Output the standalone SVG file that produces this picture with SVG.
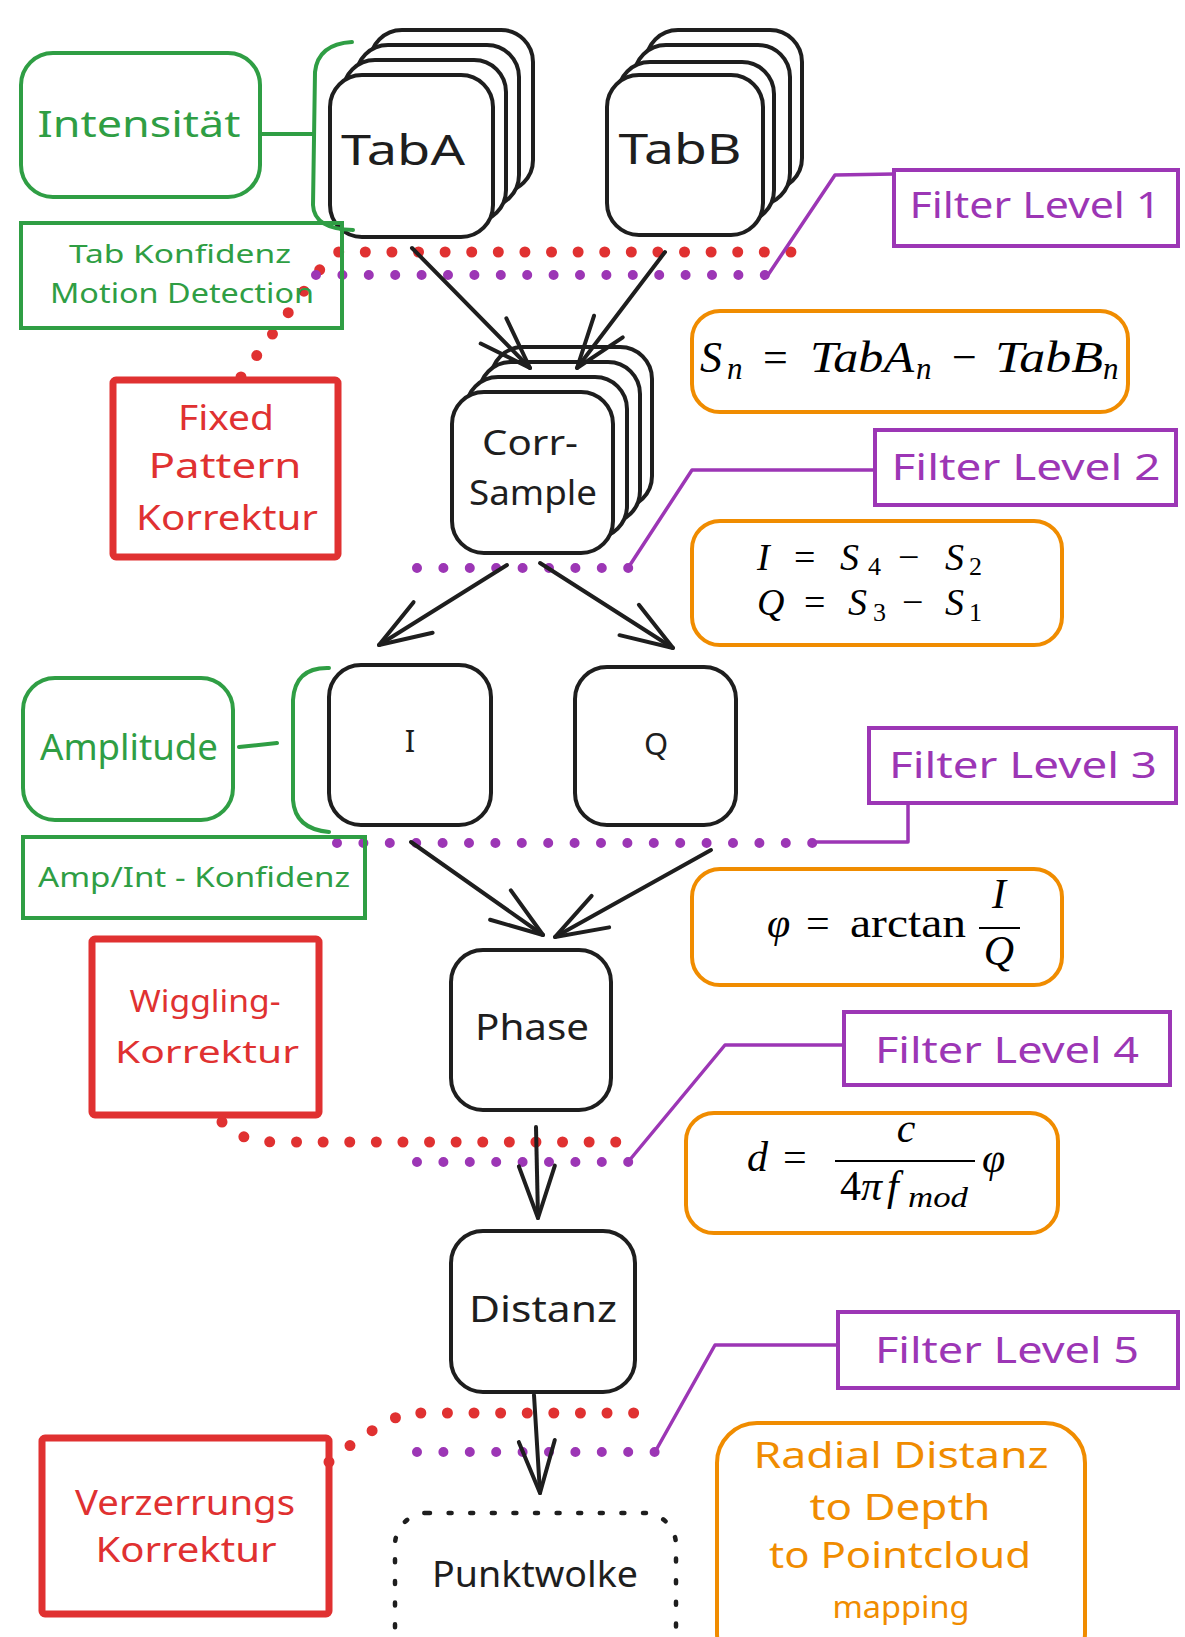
<svg xmlns="http://www.w3.org/2000/svg" width="1185" height="1637" viewBox="0 0 1185 1637">
  <style>
    .hand { font-family: "Noto Sans", "Open Sans", sans-serif; text-anchor: middle; }
    .blk { fill: #1e1e1e; }
    .grn { fill: #2f9e44; }
    .red { fill: #e03131; }
    .pur { fill: #9c36b5; }
    .org { fill: #f08c00; }
    .node { fill: #ffffff; stroke: #1e1e1e; stroke-width: 4; }
    .gbox { fill: none; stroke: #2f9e44; stroke-width: 4; }
    .rbox { fill: none; stroke: #e03131; stroke-width: 7; }
    .pbox { fill: none; stroke: #9c36b5; stroke-width: 4; }
    .obox { fill: none; stroke: #f08c00; stroke-width: 4; }
    .gline { fill: none; stroke: #2f9e44; stroke-width: 4; stroke-linecap: round; stroke-linejoin: round; }
    .pline { fill: none; stroke: #9c36b5; stroke-width: 3.5; stroke-linecap: round; stroke-linejoin: round; }
    .rdots { fill: none; stroke: #e03131; stroke-width: 11; stroke-linecap: round; stroke-dasharray: 0 26.6; }
    .pdots { fill: none; stroke: #9c36b5; stroke-width: 10; stroke-linecap: round; stroke-dasharray: 0 26.4; }
    .arrow { fill: none; stroke: #1e1e1e; stroke-width: 4; stroke-linecap: round; marker-end: url(#head); }
    .math { font-family: "Liberation Serif", "DejaVu Serif", serif; fill: #000000; }
    .it { font-style: italic; }
  </style>
  <defs>
    <marker id="head" markerUnits="userSpaceOnUse" markerWidth="80" markerHeight="80" refX="0" refY="0" orient="auto" overflow="visible">
      <path d="M -52 -18 L 0 0 L -52 18" fill="none" stroke="#1e1e1e" stroke-width="4" stroke-linecap="round" stroke-linejoin="round"/>
    </marker>
  </defs>

  <rect width="1185" height="1637" fill="#ffffff"/>

  <!-- filter / correction hook lines -->
  <g id="levels">
    <path class="rdots" d="M 241 377 L 321 268 Q 328 256 338 252 L 815 252"/>
    <path class="pdots" d="M 316 275 L 768 275"/>
    <path class="pline" d="M 768 275 L 835 175 L 894 174"/>

    <path class="pdots" d="M 417 568 L 630 568"/>
    <path class="pline" d="M 628 568 L 692 470 L 875 470"/>

    <path class="pdots" d="M 337 843 L 815 843"/>
    <path class="pline" d="M 815 842 L 908 842 L 908 804"/>

    <path class="rdots" d="M 222 1122 Q 240 1142 276 1142 L 628 1142"/>
    <path class="pdots" d="M 417 1162 L 630 1162"/>
    <path class="pline" d="M 628 1162 L 725 1045 L 844 1045"/>

    <path class="rdots" d="M 329 1462 Q 370 1428 406 1413 L 648 1413"/>
    <path class="pdots" d="M 417 1452 L 657 1452"/>
    <path class="pline" d="M 655 1452 L 715 1345 L 838 1345"/>
  </g>

  <!-- processing nodes -->
  <g id="tabA">
    <rect class="node" x="370" y="30" width="163" height="162" rx="32"/>
    <rect class="node" x="356" y="45" width="163" height="162" rx="32"/>
    <rect class="node" x="343" y="60" width="163" height="162" rx="32"/>
    <rect class="node" x="330" y="75" width="163" height="162" rx="32"/>
    <text class="hand blk" x="403" y="165" font-size="42" textLength="124" lengthAdjust="spacingAndGlyphs">TabA</text>
  </g>
  <g id="tabB">
    <rect class="node" x="646" y="30" width="156" height="160" rx="32"/>
    <rect class="node" x="634" y="45" width="156" height="160" rx="32"/>
    <rect class="node" x="618" y="62" width="156" height="160" rx="32"/>
    <rect class="node" x="607" y="75" width="156" height="160" rx="32"/>
    <text class="hand blk" x="680" y="164" font-size="42" textLength="123" lengthAdjust="spacingAndGlyphs">TabB</text>
  </g>
  <g id="corrSample">
    <rect class="node" x="491" y="347" width="161" height="161" rx="32"/>
    <rect class="node" x="479" y="362" width="161" height="161" rx="32"/>
    <rect class="node" x="466" y="377" width="161" height="161" rx="32"/>
    <rect class="node" x="452" y="392" width="161" height="161" rx="32"/>
    <text class="hand blk" x="530" y="455" font-size="34" textLength="96" lengthAdjust="spacingAndGlyphs">Corr-</text>
    <text class="hand blk" x="533" y="505" font-size="34" textLength="128" lengthAdjust="spacingAndGlyphs">Sample</text>
  </g>
  <g id="nodeI">
    <rect class="node" x="329" y="665" width="162" height="160" rx="32"/>
    <text class="hand blk" x="410" y="752" font-size="31">I</text>
  </g>
  <g id="nodeQ">
    <rect class="node" x="575" y="667" width="161" height="158" rx="32"/>
    <text class="hand blk" x="656" y="755" font-size="31">Q</text>
  </g>
  <g id="phase">
    <rect class="node" x="451" y="950" width="160" height="160" rx="32"/>
    <text class="hand blk" x="532" y="1040" font-size="37" textLength="114" lengthAdjust="spacingAndGlyphs">Phase</text>
  </g>
  <g id="distanz">
    <rect class="node" x="451" y="1231" width="184" height="161" rx="32"/>
    <text class="hand blk" x="543" y="1322" font-size="37" textLength="148" lengthAdjust="spacingAndGlyphs">Distanz</text>
  </g>
  <g id="punktwolke">
    <rect x="395" y="1513" width="281" height="180" rx="32" fill="none" stroke="#1e1e1e" stroke-width="4.5" stroke-linecap="round" stroke-dasharray="3 18.6"/>
    <text class="hand blk" x="535" y="1587" font-size="36" textLength="206" lengthAdjust="spacingAndGlyphs">Punktwolke</text>
  </g>

  <!-- green annotations -->
  <g id="intensitaet">
    <rect class="gbox" x="21" y="53" width="239" height="144" rx="32"/>
    <path class="gline" d="M 261 134 L 313 134"/>
    <path class="gline" d="M 352 42 Q 318 44 315 72 L 313 205 Q 314 229 353 230"/>
    <text class="hand grn" x="139" y="137" font-size="37" textLength="203" lengthAdjust="spacingAndGlyphs">Intensität</text>
  </g>
  <g id="tabKonfidenz">
    <rect class="gbox" x="21" y="223" width="321" height="105"/>
    <text class="hand grn" x="180" y="263" font-size="26" textLength="222" lengthAdjust="spacingAndGlyphs">Tab Konfidenz</text>
    <text class="hand grn" x="182" y="303" font-size="27" textLength="264" lengthAdjust="spacingAndGlyphs">Motion Detection</text>
  </g>
  <g id="amplitude">
    <rect class="gbox" x="23" y="678" width="210" height="142" rx="32"/>
    <path class="gline" d="M 239 747 L 277 743"/>
    <path class="gline" d="M 329 668 Q 295 667 293 700 L 293 800 Q 295 829 329 832"/>
    <text class="hand grn" x="129" y="760" font-size="37" textLength="178" lengthAdjust="spacingAndGlyphs">Amplitude</text>
  </g>
  <g id="ampIntKonfidenz">
    <rect class="gbox" x="23" y="837" width="342" height="81"/>
    <text class="hand grn" x="194" y="887" font-size="28" textLength="312" lengthAdjust="spacingAndGlyphs">Amp/Int - Konfidenz</text>
  </g>

  <!-- red corrections -->
  <g id="fixedPattern">
    <rect class="rbox" x="113" y="380" width="225" height="177" rx="3"/>
    <text class="hand red" x="226" y="430" font-size="35" textLength="96" lengthAdjust="spacingAndGlyphs">Fixed</text>
    <text class="hand red" x="225" y="478" font-size="35" textLength="153" lengthAdjust="spacingAndGlyphs">Pattern</text>
    <text class="hand red" x="227" y="530" font-size="35" textLength="182" lengthAdjust="spacingAndGlyphs">Korrektur</text>
  </g>
  <g id="wiggling">
    <rect class="rbox" x="92" y="939" width="227" height="176" rx="3"/>
    <text class="hand red" x="205" y="1012" font-size="31" textLength="151" lengthAdjust="spacingAndGlyphs">Wiggling-</text>
    <text class="hand red" x="207" y="1063" font-size="31" textLength="184" lengthAdjust="spacingAndGlyphs">Korrektur</text>
  </g>
  <g id="verzerrung">
    <rect class="rbox" x="42" y="1438" width="287" height="176" rx="3"/>
    <text class="hand red" x="185" y="1515" font-size="35" textLength="220" lengthAdjust="spacingAndGlyphs">Verzerrungs</text>
    <text class="hand red" x="186" y="1562" font-size="35" textLength="181" lengthAdjust="spacingAndGlyphs">Korrektur</text>
  </g>

  <!-- filter levels -->
  <g id="filter1">
    <rect class="pbox" x="894" y="170" width="284" height="76"/>
    <text class="hand pur" x="1035" y="218" font-size="37" textLength="251" lengthAdjust="spacingAndGlyphs">Filter Level 1</text>
  </g>
  <g id="filter2">
    <rect class="pbox" x="875" y="430" width="301" height="75"/>
    <text class="hand pur" x="1026" y="480" font-size="37" textLength="269" lengthAdjust="spacingAndGlyphs">Filter Level 2</text>
  </g>
  <g id="filter3">
    <rect class="pbox" x="869" y="728" width="307" height="75"/>
    <text class="hand pur" x="1023" y="778" font-size="37" textLength="268" lengthAdjust="spacingAndGlyphs">Filter Level 3</text>
  </g>
  <g id="filter4">
    <rect class="pbox" x="844" y="1012" width="326" height="73"/>
    <text class="hand pur" x="1007" y="1063" font-size="37" textLength="264" lengthAdjust="spacingAndGlyphs">Filter Level 4</text>
  </g>
  <g id="filter5">
    <rect class="pbox" x="838" y="1312" width="340" height="76"/>
    <text class="hand pur" x="1007" y="1363" font-size="37" textLength="264" lengthAdjust="spacingAndGlyphs">Filter Level 5</text>
  </g>

  <!-- formula notes -->
  <g id="eqSn">
    <rect class="obox" x="692" y="311" width="436" height="101" rx="28"/>
    <text class="math" font-size="44">
      <tspan class="it" x="700" y="372">S</tspan><tspan class="it" x="727" y="379" font-size="31">n</tspan>
      <tspan x="763" y="372">=</tspan>
      <tspan class="it" x="810" y="372" textLength="104" lengthAdjust="spacingAndGlyphs">TabA</tspan><tspan class="it" x="916" y="379" font-size="31">n</tspan>
      <tspan x="952" y="372">−</tspan>
      <tspan class="it" x="995" y="372" textLength="108" lengthAdjust="spacingAndGlyphs">TabB</tspan><tspan class="it" x="1103" y="379" font-size="31">n</tspan>
    </text>
  </g>
  <g id="eqIQ">
    <rect class="obox" x="692" y="521" width="370" height="124" rx="28"/>
    <text class="math" font-size="38">
      <tspan class="it" x="757" y="570">I</tspan>
      <tspan x="794" y="570">=</tspan>
      <tspan class="it" x="840" y="570">S</tspan><tspan x="868" y="575" font-size="26">4</tspan>
      <tspan x="898" y="570">−</tspan>
      <tspan class="it" x="945" y="570">S</tspan><tspan x="969" y="575" font-size="26">2</tspan>
    </text>
    <text class="math" font-size="38">
      <tspan class="it" x="757" y="615">Q</tspan>
      <tspan x="804" y="615">=</tspan>
      <tspan class="it" x="848" y="615">S</tspan><tspan x="873" y="621" font-size="26">3</tspan>
      <tspan x="902" y="615">−</tspan>
      <tspan class="it" x="945" y="615">S</tspan><tspan x="969" y="621" font-size="26">1</tspan>
    </text>
  </g>
  <g id="eqPhi">
    <rect class="obox" x="692" y="869" width="370" height="116" rx="28"/>
    <text class="math it" x="767" y="937" font-size="42">φ</text>
    <text class="math" x="806" y="937" font-size="42">=</text>
    <text class="math" x="850" y="937" font-size="42" textLength="116" lengthAdjust="spacingAndGlyphs">arctan</text>
    <line x1="979" y1="928" x2="1020" y2="928" stroke="#000000" stroke-width="2"/>
    <text class="math it" x="999" y="908" font-size="42" text-anchor="middle">I</text>
    <text class="math it" x="999" y="965" font-size="42" text-anchor="middle">Q</text>
  </g>
  <g id="eqD">
    <rect class="obox" x="686" y="1113" width="372" height="120" rx="28"/>
    <text class="math it" x="747" y="1171" font-size="42">d</text>
    <text class="math" x="783" y="1171" font-size="42">=</text>
    <line x1="835" y1="1161" x2="975" y2="1161" stroke="#000000" stroke-width="2"/>
    <text class="math it" x="906" y="1142" font-size="42" text-anchor="middle">c</text>
    <text class="math" font-size="42">
      <tspan x="840" y="1200">4</tspan><tspan class="it" x="861" y="1200">π</tspan><tspan class="it" x="887" y="1200">f</tspan><tspan class="it" x="908" y="1207" font-size="30" textLength="60" lengthAdjust="spacingAndGlyphs">mod</tspan>
    </text>
    <text class="math it" x="982" y="1172" font-size="42">φ</text>
  </g>
  <g id="radialNote">
    <rect class="obox" x="717" y="1423" width="368" height="250" rx="40"/>
    <text class="hand org" x="901" y="1468" font-size="37" textLength="295" lengthAdjust="spacingAndGlyphs">Radial Distanz</text>
    <text class="hand org" x="900" y="1520" font-size="37" textLength="181" lengthAdjust="spacingAndGlyphs">to Depth</text>
    <text class="hand org" x="900" y="1568" font-size="37" textLength="262" lengthAdjust="spacingAndGlyphs">to Pointcloud</text>
    <text class="hand org" x="901" y="1618" font-size="30" textLength="137" lengthAdjust="spacingAndGlyphs">mapping</text>
  </g>

  <!-- data-flow connectors -->
  <g id="connectors">
    <path class="arrow" d="M 412 248 L 530 368"/>
    <path class="arrow" d="M 665 252 L 577 368"/>
    <path class="arrow" d="M 507 565 L 379 645"/>
    <path class="arrow" d="M 540 563 L 673 648"/>
    <path class="arrow" d="M 411 842 L 543 935"/>
    <path class="arrow" d="M 711 850 L 555 937"/>
    <path class="arrow" d="M 536 1127 L 538 1218"/>
    <path class="arrow" d="M 534 1395 L 540 1493"/>
  </g>
</svg>
